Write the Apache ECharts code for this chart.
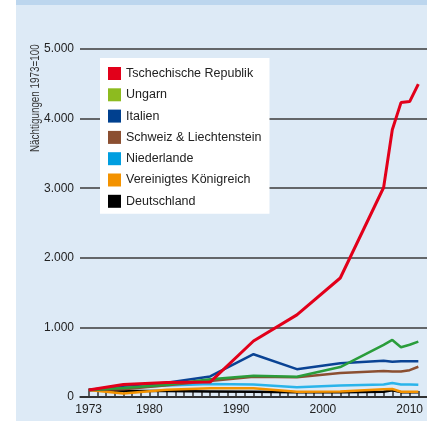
<!DOCTYPE html>
<html>
<head>
<meta charset="utf-8">
<script src="https://cdn.jsdelivr.net/npm/echarts@6/dist/echarts.min.js"></script>
<style>
  html, body { margin: 0; padding: 0; background: #fff; }
  #chart { width: 427px; height: 421px; }
</style>
</head>
<body>
<div id="chart"></div>
<script>
var years = [1973, 1977, 1982, 1987, 1992, 1997, 2002, 2007, 2008, 2009, 2010, 2011];
var tschechien = [100, 180, 210, 215, 805, 1180, 1710, 3010, 3840, 4230, 4245, 4495];
var ungarn = [100, 130, 175, 255, 305, 290, 430, 750, 820, 715, 750, 795];
var italien = [100, 160, 205, 295, 615, 400, 485, 520, 505, 515, 515, 515];
var schweiz = [100, 110, 170, 230, 290, 285, 345, 375, 365, 365, 385, 435];
var niederlande = [100, 130, 165, 185, 180, 140, 165, 180, 200, 180, 180, 175];
var vk = [100, 50, 105, 125, 125, 75, 80, 110, 115, 75, 75, 75];
var deutschland = [100, 90, 85, 80, 75, 70, 70, 75, 95, 70, 70, 70];

var xLabelYears = [1973, 1980, 1990, 2000, 2010];
var font = "'Liberation Sans', Arial, sans-serif";

function pairs(vals) {
    var out = [];
    for (var i = 0; i < years.length; i++) {
        out.push([years[i], vals[i]]);
    }
    return out;
}

var tickYears = [];
for (var y = 1973; y <= 2011; y++) tickYears.push(y);

// name, data, legend colour, line colour
var defs = [
    ['Tschechische Republik', tschechien, '#e2001a', '#e2001a'],
    ['Ungarn', ungarn, '#8dbb1f', '#2a9d3b'],
    ['Italien', italien, '#00408f', '#0a4394'],
    ['Schweiz & Liechtenstein', schweiz, '#8b4f31', '#8b4f31'],
    ['Niederlande', niederlande, '#009ee0', '#2ab4ea'],
    ['Vereinigtes Königreich', vk, '#f39200', '#f39200'],
    ['Deutschland', deutschland, '#000000', '#000000']
];

var series = [];
var legendData = [];
defs.forEach(function (d, i) {
    legendData.push({ name: d[0], itemStyle: { color: d[2] } });
    series.push({
        name: d[0],
        type: 'line',
        data: pairs(d[1]),
        showSymbol: false,
        z: 10 - i,
        itemStyle: { color: d[2] },
        lineStyle: { color: d[3], width: i === 0 ? 3 : 2.5 }
    });
});

var myChart = echarts.init(document.getElementById('chart'));

var option = {
    backgroundColor: '#ffffff',
    animation: false,
    graphic: [
        { type: 'rect', z: -10, shape: { x: 16, y: 0, width: 411, height: 421 }, style: { fill: '#ddeaf6' } },
        { type: 'rect', z: -9, shape: { x: 16, y: 0, width: 411, height: 5 }, style: { fill: '#bcd6ee' } },
        {
            type: 'text', x: 35, y: 152, rotation: Math.PI / 2, scaleX: 0.73,
            style: { text: 'Nächtigungen 1973=100', fontFamily: font, fontSize: 13.5, fill: '#333', textAlign: 'left', textVerticalAlign: 'middle' }
        }
    ],
    legend: {
        orient: 'vertical',
        left: 100,
        top: 58,
        backgroundColor: '#ffffff',
        padding: [9, 8, 6, 8],
        itemWidth: 13,
        itemHeight: 13,
        itemGap: 8.3,
        icon: 'rect',
        textStyle: { fontFamily: font, fontSize: 12.5, color: '#222' },
        data: legendData
    },
    grid: {
        left: 80,
        right: 0,
        top: 49,
        bottom: 24
    },
    xAxis: {
        type: 'value',
        min: 1972,
        max: 2012,
        axisLine: { show: true, onZero: false, lineStyle: { color: '#222', width: 1.5 } },
        axisTick: { show: true, inside: true, length: 6, customValues: tickYears, lineStyle: { color: '#333', width: 1.5 } },
        axisLabel: {
            customValues: xLabelYears,
            margin: 7,
            fontFamily: font,
            fontSize: 12,
            color: '#222',
            formatter: function (v) { return String(v); }
        },
        splitLine: { show: false }
    },
    yAxis: {
        type: 'value',
        min: 0,
        max: 5000,
        interval: 1000,
        axisLine: { show: false },
        axisTick: { show: false },
        axisLabel: {
            margin: 6,
            fontFamily: font,
            fontSize: 12,
            color: '#222',
            verticalAlign: 'middle',
            padding: [0, 0, 6, 0],
            formatter: function (v) {
                return v === 0 ? '0' : (v / 1000) + '.000';
            }
        },
        splitLine: { show: true, lineStyle: { color: '#3a3a3a', width: 1.5 } }
    },
    series: series
};

myChart.setOption(option);
</script>
</body>
</html>
